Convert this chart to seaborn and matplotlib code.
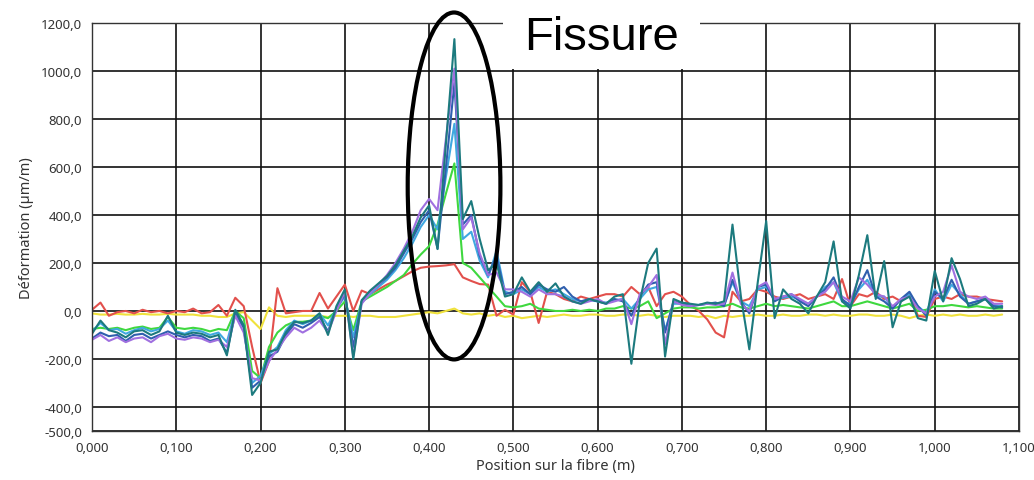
import numpy as np
import pandas as pd
import matplotlib
matplotlib.use("Agg")
import matplotlib.pyplot as plt
from matplotlib.patches import Ellipse, Rectangle
import seaborn as sns

# ---------------- data ----------------
positions = [round(i * 0.01, 2) for i in range(109)]  # 0.00 .. 1.08 m

yellow = [-10, -15, -15, -12, -15, -15, -12, -15, -15, -12,
          -15, -15, -15, -20, -20, -25, -25, -10, -5, -40,
          -75, 15, -20, -25, -20, -20, -20, -20, -25, -20,
          -20, -25, -20, -20, -25, -25, -25, -20, -15, -10,
          -5, -10, 0, 10, -10, -15, -10, -20, -15, -25,
          -20, -30, -25, -20, -25, -20, -15, -20, -20, -15,
          -15, -20, -20, -15, -15, -20, -15, -20, -25, -20,
          -20, -20, -25, -20, -30, -20, -25, -20, -20, -15,
          -20, -20, -15, -20, -20, -15, -15, -20, -15, -20,
          -20, -15, -15, -20, -20, -15, -20, -30, -20, -15,
          -20, -15, -20, -15, -20, -20, -15, -20, -15]

red = [5, 35, -20, -5, 0, -10, 5, -5, 0, -10,
       0, -5, 10, -10, -5, 25, -20, 55, 20, -150,
       -300, -210, 95, -10, -5, 0, 0, 75, 10, 60,
       110, 0, 85, 70, 90, 110, 125, 145, 165, 180,
       185, 187, 190, 195, 140, 125, 112, 110, -20, 5,
       -15, 120, 80, -50, 80, 70, 50, 40, 60, 50,
       60, 70, 70, 60, 100, 70, 100, 20, 70, 80,
       60, 25, 0, -35, -90, -110, 80, 40, 50, 90,
       80, 60, 50, 60, 70, 50, 60, 70, 50, 133,
       20, 70, 60, 80, 50, 60, 40, 70, -20, -25,
       50, 60, 50, 70, 60, 60, 50, 45, 40]

green = [-75, -70, -75, -70, -80, -70, -65, -75, -70, -25,
         -70, -75, -70, -75, -85, -75, -80, 0, -30, -250,
         -280, -150, -90, -60, -45, -45, -40, -20, -30, 0,
         40, -80, 40, 60, 80, 100, 125, 150, 195, 235,
         270, 360, 490, 615, 200, 180, 140, 100, 60, 20,
         15, 20, 30, 10, 5, 0, 0, 5, 0, 5,
         0, 10, 10, 20, 10, 20, 40, -30, -10, 10,
         15, 15, 10, 15, 15, 20, 30, 15, 10, 20,
         30, 20, 25, 20, 15, 10, 20, 30, 40, 20,
         20, 30, 40, 30, 20, 10, 20, 30, 0, 5,
         20, 20, 25, 20, 15, 20, 15, 10, 10]

skyblue = [-85, -50, -80, -75, -95, -80, -70, -85, -75, -40,
           -85, -95, -80, -85, -100, -90, -130, 0, -60, -300,
           -270, -180, -150, -80, -40, -55, -40, -10, -60, 10,
           60, -110, 35, 70, 100, 130, 170, 220, 280, 350,
           400, 340, 560, 780, 300, 330, 210, 140, 250, 80,
           70, 90, 70, 100, 80, 90, 70, 50, 40, 45,
           40, 35, 45, 50, 10, 50, 90, 100, -80, 30,
           30, 25, 25, 30, 30, 25, 120, 40, 20, 90,
           100, 45, 55, 60, 45, 30, 60, 100, 120, 40,
           30, 90, 130, 60, 60, 10, 50, 70, 20, -10,
           90, 40, 110, 70, 30, 40, 50, 25, 20]

blue = [-115, -90, -105, -100, -125, -100, -95, -115, -100, -85,
        -100, -110, -100, -105, -125, -115, -175, -10, -70, -320,
        -290, -190, -170, -100, -55, -70, -50, -25, -85, 10,
        70, -150, 40, 80, 110, 140, 180, 240, 300, 370,
        420, 260, 600, 950, 360, 400, 230, 150, 230, 70,
        80, 100, 70, 110, 90, 80, 100, 60, 40, 50,
        40, 30, 50, 40, -20, 60, 110, 120, -90, 40,
        30, 20, 25, 30, 35, 20, 130, 40, -10, 100,
        110, 40, 60, 70, 40, 20, 60, 90, 140, 50,
        20, 100, 170, 60, 40, 10, 50, 80, 20, -20,
        80, 50, 130, 60, 30, 40, 50, 20, 15]

purple = [-120, -100, -125, -110, -130, -115, -110, -130, -105, -95,
          -115, -120, -110, -115, -130, -120, -150, -20, -90, -280,
          -290, -210, -160, -110, -70, -90, -70, -40, -90, 0,
          80, -190, 30, 75, 110, 150, 200, 260, 330, 420,
          467, 420, 720, 1010, 340, 390, 240, 150, 160, 90,
          90, 80, 60, 90, 70, 70, 60, 40, 30, 40,
          50, 30, 40, 50, -55, 70, 100, 150, -140, 40,
          25, 20, 25, 30, 25, 30, 160, 30, 0, 100,
          120, 50, 60, 70, 50, 30, 60, 80, 120, 60,
          40, 140, 110, 70, 60, 20, 50, 60, 10, -10,
          60, 80, 190, 80, 60, 50, 60, 30, 30]

teal = [-95, -40, -80, -90, -110, -85, -80, -100, -85, -20,
        -90, -100, -90, -95, -110, -100, -185, 5, -60, -350,
        -300, -170, -160, -90, -45, -50, -40, -10, -100, 20,
        90, -200, 45, 85, 115, 145, 190, 250, 310, 390,
        440, 258, 700, 1133, 383, 458, 300, 170, 200, 60,
        70, 140, 80, 120, 80, 115, 60, 40, 30, 50,
        40, 30, 60, 70, -220, 40, 200, 260, -190, 50,
        35, 30, 25, 35, 30, 40, 360, 60, -160, 120,
        375, -30, 90, 50, 30, -10, 60, 120, 290, 40,
        10, 150, 316, 50, 208, -68, 40, 60, -30, -40,
        167, 40, 220, 133, 20, 30, 50, 10, 20]

series_names = ["jaune", "rouge", "vert", "ciel", "bleu", "violet", "sarcelle"]
series_values = [yellow, red, green, skyblue, blue, purple, teal]
series_colors = ["#f0e23c", "#e2504c", "#3fd83f", "#3fa8e0", "#2f5fae", "#a070e0", "#1c7a7e"]

y_ticks = [-500, -400, -200, 0, 200, 400, 600, 800, 1000, 1200]
x_ticks = [round(i * 0.1, 1) for i in range(12)]

df = pd.DataFrame({
    "x": positions * len(series_names),
    "y": [v for vals in series_values for v in vals],
    "serie": [n for n in series_names for _ in positions],
})

# ---------------- plot ----------------
sns.set_style("white")
plt.rcParams["font.family"] = ["Noto Sans", "DejaVu Sans"]

fig = plt.figure(figsize=(10.34, 4.81), dpi=100)
ax = fig.add_axes([0.089, 0.102, 0.8965, 0.848])

sns.lineplot(data=df, x="x", y="y", hue="serie", hue_order=series_names,
             palette=dict(zip(series_names, series_colors)), legend=False,
             linewidth=1.5, ax=ax, sort=False, estimator=None)

ax.set_xlim(0, 1.1)
ax.set_ylim(-500, 1200)
ax.set_xticks(x_ticks)
ax.set_yticks(y_ticks)
ax.set_xticklabels([f"{t:.3f}".replace(".", ",") for t in x_ticks], fontsize=9.5, color="#333333")
ax.set_yticklabels([f"{t:.1f}".replace(".", ",") for t in y_ticks], fontsize=9.5, color="#333333")
ax.grid(True, color="#111111", linewidth=1.2)
ax.set_axisbelow(True)
ax.tick_params(axis="both", direction="out", length=5, width=1, color="#333333", pad=2)
for s in ax.spines.values():
    s.set_color("#333333")
    s.set_linewidth(1.0)
ax.set_xlabel("Position sur la fibre (m)", fontsize=10.5, color="#333333", labelpad=3)
ax.set_ylabel("Déformation (µm/m)", fontsize=10.5, color="#333333", labelpad=5)

# annotation: ellipse around the crack
ell = Ellipse((0.4296, 521), width=0.110, height=1446, fill=False,
              edgecolor="black", linewidth=3, clip_on=False, zorder=10)
ax.add_patch(ell)

# white box with "Fissure"
W, H = 1034, 481
fig.patches.append(Rectangle((503 / W, 1 - 70 / H), 197 / W, 70 / H,
                             transform=fig.transFigure, facecolor="white",
                             edgecolor="none", zorder=20))
fig.text(601 / W, 1 - 50 / H, "Fissure", fontsize=34, family=["Liberation Sans", "DejaVu Sans"],
         ha="center", va="baseline", color="black", zorder=21)

fig.savefig("out.png", dpi=100)
